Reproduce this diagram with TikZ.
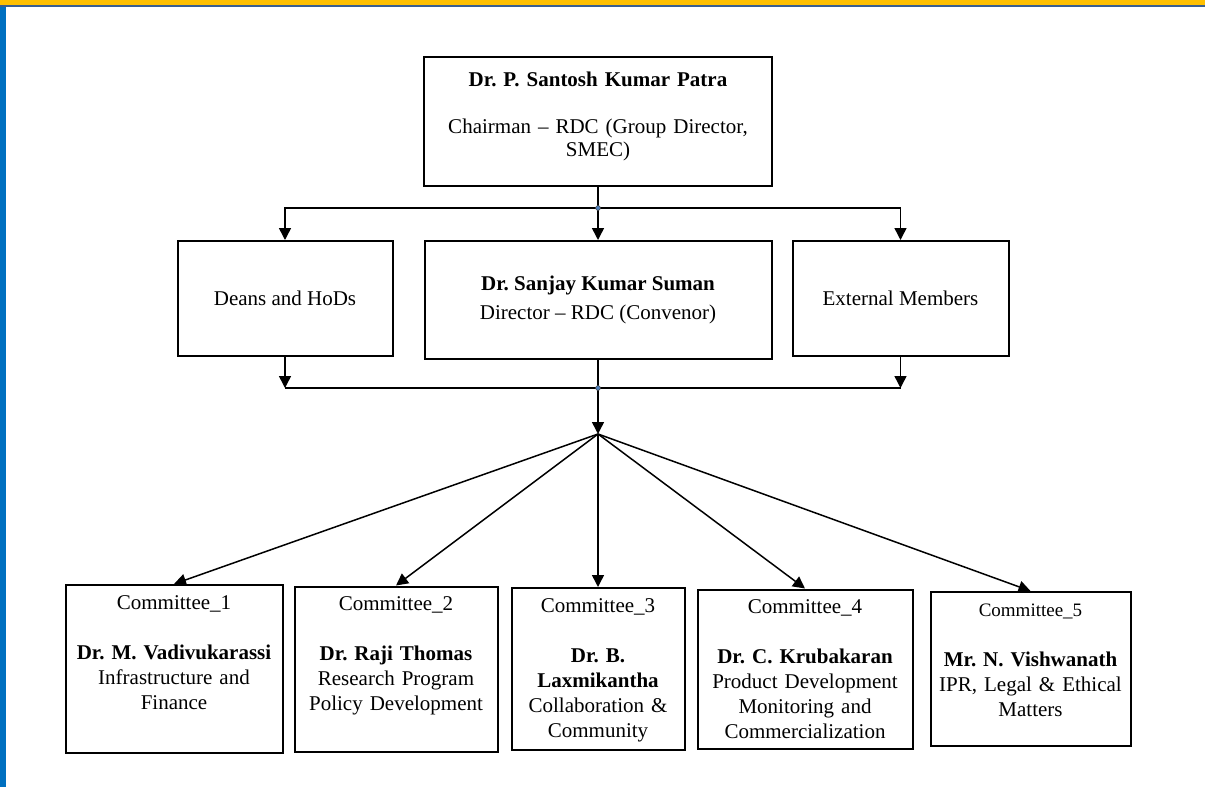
\documentclass[tikz,border=0pt]{standalone}
\usepackage{fontspec}
\setmainfont{Liberation Serif}
\usepackage{tikz}
\usetikzlibrary{arrows.meta, positioning}

\definecolor{bandorange}{HTML}{FFC000}
\definecolor{bandline}{HTML}{3A5F8F}
\definecolor{bandblue}{HTML}{0070C0}
\definecolor{dotblue}{HTML}{4F81BD}
\frenchspacing

\begin{document}
\begin{tikzpicture}[
                box/.style={rectangle, draw=black, line width=1pt, align=center, font=\fontsize{10.5}{12.5}\selectfont},
                topbox/.style={rectangle, draw=black, line width=1pt, align=center, inner xsep=1pt, inner ysep=4pt, text height=8pt, font=\fontsize{10.5}{12.5}\selectfont},
                arrow/.style={-{Triangle[length=6pt, width=6pt]}, line width=0.75pt},
                link/.style={line width=0.75pt},
                joint/.style={fill=dotblue, draw=black!70, line width=0.3pt}
            ]
                \useasboundingbox (0,0) rectangle (602.5pt,-393.5pt);
                \fill[bandorange] (0,0) rectangle (602.5pt,-2.5pt);
                \fill[bandline] (0,-2.5pt) rectangle (602.5pt,-3.6pt);
                \fill[bandblue] (0,-3.6pt) rectangle (3pt,-393.5pt);

                \node[topbox, text width=172pt, text height=10.5pt, text depth=46pt, font=\fontsize{10.5}{11.75}\selectfont] (chair) at (299pt,-60.75pt)
                    {\textbf{Dr. P. Santosh Kumar Patra}\\[11.75pt]Chairman -- RDC (Group Director,\\SMEC)};
                \node[box, minimum width=173.5pt, minimum height=59pt, below=26.5pt of chair] (conv)
                    {\textbf{Dr. Sanjay Kumar Suman}\\[2pt]Director -- RDC (Convenor)};
                \node[box, minimum width=107.5pt, minimum height=57.5pt, left=15pt of conv.north west, anchor=north east] (deans) {Deans and HoDs};
                \node[box, minimum width=108pt, minimum height=57.5pt, right=9.5pt of conv.north east, anchor=north west] (ext) {External Members};

                \coordinate[below=10.5pt of chair] (j1);
                \coordinate[below=14pt of conv] (j2);
                \coordinate[below=23pt of j2] (fan);

                \node[topbox, text width=84.5pt, text depth=65pt, below=76.5pt of fan] (c3)
                    {Committee\_3\\[12.5pt]\textbf{Dr. B.}\\\textbf{Laxmikantha}\\Collaboration \&\\Community};
                \node[topbox, text width=99.5pt, text depth=66.5pt, left=6pt of c3] (c2)
                    {Committee\_2\\[12.5pt]\textbf{Dr. Raji Thomas}\\Research Program\\Policy Development};
                \node[topbox, text width=106.5pt, text depth=68pt, left=5pt of c2] (c1)
                    {Committee\_1\\[12.5pt]\textbf{Dr. M. Vadivukarassi}\\Infrastructure and\\Finance};
                \node[topbox, text width=105.5pt, text depth=63.5pt, right=5.5pt of c3] (c4)
                    {Committee\_4\\[12.5pt]\textbf{Dr. C. Krubakaran}\\Product Development\\Monitoring and\\Commercialization};
                \node[topbox, text width=98pt, text depth=61pt, right=8pt of c4] (c5)
                    {{\fontsize{9.5}{12.5}\selectfont Committee\_5}\\[12.5pt]\textbf{Mr. N. Vishwanath}\\IPR, Legal \& Ethical\\Matters};

                \draw[link] (chair) -- (j1);
                \draw[arrow] (j1) -| (deans);
                \draw[arrow] (j1) -- (conv);
                \draw[arrow] (j1) -| (ext);
                \draw[arrow] (deans) -- (deans |- j2);
                \draw[arrow] (ext) -- (ext |- j2);
                \draw[link] (deans |- j2) -- (ext |- j2);
                \draw[link] (conv) -- (j2);
                \draw[arrow] (j2) -- (fan);
                \draw[arrow] (fan) -- (c1.north);
                \draw[arrow] (fan) -- (c2.north);
                \draw[arrow] (fan) -- (c3.north);
                \draw[arrow] (fan) -- (c4.north);
                \draw[arrow] (fan) -- (c5.north);
                \filldraw[joint] (j1) circle (1.2pt);
                \filldraw[joint] (j2) circle (1.2pt);
            \end{tikzpicture}
\end{document}
